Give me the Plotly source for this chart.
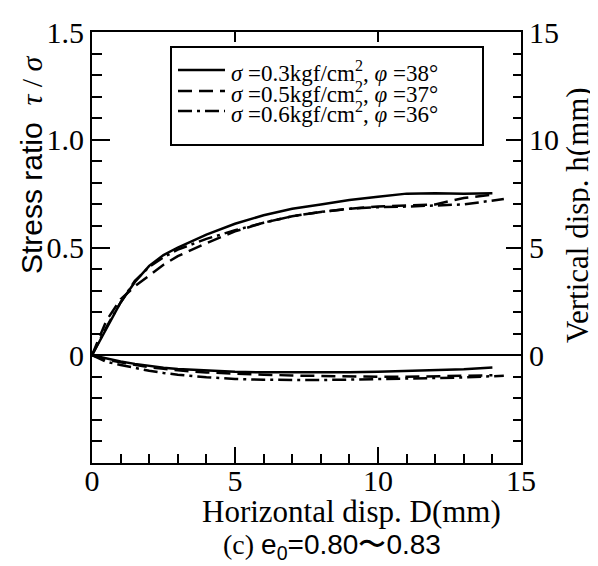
import plotly.graph_objects as go

# ---------------- data ----------------
D = [0, 0.5, 1, 1.5, 2, 2.5, 3, 4, 5, 6, 7, 8, 9, 10, 11, 12, 13, 14]
D_dd = [0, 0.5, 1, 1.5, 2, 2.5, 3, 4, 5, 6, 7, 8, 9, 10, 11, 12, 13, 14.4]

# stress ratio tau/sigma (left axis)
ratio_03 = [0, 0.12, 0.245, 0.34, 0.415, 0.465, 0.50, 0.56, 0.61, 0.65, 0.68, 0.70, 0.72, 0.735, 0.75, 0.752, 0.75, 0.752]
ratio_05 = [0, 0.16, 0.26, 0.32, 0.37, 0.42, 0.46, 0.52, 0.575, 0.615, 0.645, 0.665, 0.68, 0.69, 0.695, 0.70, 0.73, 0.745]
ratio_06 = [0, 0.13, 0.245, 0.345, 0.41, 0.455, 0.49, 0.54, 0.58, 0.615, 0.645, 0.665, 0.68, 0.687, 0.69, 0.695, 0.70, 0.725]

# vertical displacement h (mm) (right axis)
h_03 = [0, -0.15, -0.29, -0.40, -0.50, -0.58, -0.64, -0.72, -0.77, -0.79, -0.80, -0.80, -0.79, -0.77, -0.74, -0.70, -0.65, -0.57]
h_05 = [0, -0.20, -0.33, -0.45, -0.55, -0.63, -0.70, -0.80, -0.86, -0.90, -0.94, -0.97, -1.00, -1.00, -1.00, -0.98, -0.96, -0.93]
h_06 = [0, -0.30, -0.45, -0.60, -0.72, -0.82, -0.90, -1.02, -1.10, -1.14, -1.15, -1.15, -1.13, -1.10, -1.08, -1.06, -1.03, -0.95]

names = [
    "<i>σ</i> =0.3kgf/cm<sup>2</sup>, <i>φ</i> =38°",
    "<i>σ</i> =0.5kgf/cm<sup>2</sup>, <i>φ</i> =37°",
    "<i>σ</i> =0.6kgf/cm<sup>2</sup>, <i>φ</i> =36°",
]

x_ticks = [0, 5, 10, 15]
y_left_ticks = [0, 0.5, 1.0, 1.5]
y_left_text = ["0", "0.5", "1.0", "1.5"]
y_right_ticks = [0, 5, 10, 15]

x_title = "Horizontal disp. D(mm)"
y_left_title = "Stress ratio  <span style='font-family:Liberation Serif'><i>τ</i> / <i>σ</i></span>"
y_right_title = "Vertical disp. h(mm)"
caption = "(c) <span style='font-family:Liberation Sans'>e<sub>0</sub>=0.80〜0.83</span>"

# ---------------- styles ----------------
SERIF = "Liberation Serif, Times New Roman, serif"
SANS = "Liberation Sans, Arial, sans-serif"
dashes = ["solid", "14px,7px", "14px,5px,3px,5px"]
LW = 2.5
L, R, T, B = 84, 85, 24, 111
W, H = 598, 566
PW, PH = W - L - R, H - T - B


def px(xp):
    return (xp - L) / PW


def py(yp):
    return (H - B - yp) / PH


fig = go.Figure()
xs = [D, D, D_dd]
for i, r in enumerate([ratio_03, ratio_05, ratio_06]):
    fig.add_trace(go.Scatter(x=xs[i], y=r, mode="lines", name=names[i], showlegend=False,
                             line=dict(color="black", width=LW, dash=dashes[i]),
                             xaxis="x", yaxis="y"))
for i, h in enumerate([h_03, h_05, h_06]):
    fig.add_trace(go.Scatter(x=xs[i], y=h, mode="lines", name=names[i], showlegend=False,
                             line=dict(color="black", width=LW, dash=dashes[i]),
                             xaxis="x", yaxis="y2"))
# invisible trace to anchor the top axis
fig.add_trace(go.Scatter(x=[0, 15], y=[None, None], xaxis="x2", yaxis="y", showlegend=False,
                         hoverinfo="skip", mode="lines"))

tickfont = dict(family=SERIF, size=30, color="black")

# legend (box, samples and labels)
shapes = [dict(type="rect", xref="paper", yref="paper", x0=px(163), x1=px(475), y0=py(137), y1=py(39),
               line=dict(color="black", width=2), fillcolor="rgba(0,0,0,0)")]
annotations = []
rows = [62, 83, 103]
for i, yr in enumerate(rows):
    shapes.append(dict(type="line", xref="paper", yref="paper", x0=px(170), x1=px(217),
                       y0=py(yr), y1=py(yr), line=dict(color="black", width=LW, dash=dashes[i])))
    annotations.append(dict(xref="paper", yref="paper", x=px(221), y=py(yr + 1), xanchor="left",
                            yanchor="middle", showarrow=False, text=names[i],
                            font=dict(family=SERIF, size=23, color="black")))

annotations += [
    dict(xref="paper", yref="paper", x=px(23), y=py(157), textangle=-90, showarrow=False,
         xanchor="center", yanchor="middle", text=y_left_title,
         font=dict(family=SANS, size=30, color="black")),
    dict(xref="paper", yref="paper", x=px(569), y=py(207), textangle=-90, showarrow=False,
         xanchor="center", yanchor="middle", text=y_right_title,
         font=dict(family=SERIF, size=31, color="black")),
    dict(xref="paper", yref="paper", x=px(343), y=py(503), showarrow=False,
         xanchor="center", yanchor="middle", text=x_title,
         font=dict(family=SERIF, size=31, color="black")),
    dict(xref="paper", yref="paper", x=px(324), y=py(538), showarrow=False,
         xanchor="center", yanchor="middle", text=caption,
         font=dict(family=SERIF, size=28, color="black")),
]

fig.update_layout(
    width=W, height=H,
    margin=dict(l=L, r=R, t=T, b=B),
    paper_bgcolor="white", plot_bgcolor="white",
    showlegend=False,
    xaxis=dict(range=[0, 15], tickmode="array", tickvals=x_ticks, automargin=False,
               ticks="inside", ticklen=16, tickwidth=2, tickcolor="black",
               minor=dict(dtick=1, tick0=0, ticks="inside", ticklen=9, tickwidth=1.5, tickcolor="black"),
               showline=True, linecolor="black", linewidth=2, ticklabelstandoff=-10,
               showgrid=False, zeroline=False, tickfont=tickfont),
    xaxis2=dict(range=[0, 15], overlaying="x", side="top", tickmode="array", tickvals=[5, 10],
                ticks="inside", ticklen=10, tickwidth=2, tickcolor="black", automargin=False,
                showticklabels=False, showline=True, linecolor="black", linewidth=2,
                showgrid=False, zeroline=False),
    yaxis=dict(range=[-0.5, 1.5], tickmode="array", tickvals=y_left_ticks, ticktext=y_left_text,
               ticks="inside", ticklen=18, tickwidth=2, tickcolor="black", automargin=False,
               minor=dict(dtick=0.1, tick0=0, ticks="inside", ticklen=10, tickwidth=1.5, tickcolor="black"),
               showline=True, linecolor="black", linewidth=2,
               showgrid=False, zeroline=True, zerolinecolor="black", zerolinewidth=2,
               tickfont=tickfont),
    yaxis2=dict(range=[-5, 15], overlaying="y", side="right", tickmode="array", tickvals=y_right_ticks,
                ticks="inside", ticklen=15, tickwidth=2, tickcolor="black", automargin=False,
                minor=dict(dtick=1, tick0=0, ticks="inside", ticklen=8, tickwidth=1.5, tickcolor="black"),
                showline=True, linecolor="black", linewidth=2,
                showgrid=False, zeroline=False, tickfont=tickfont),
    shapes=shapes,
    annotations=annotations,
)

fig.write_html("out.html")
